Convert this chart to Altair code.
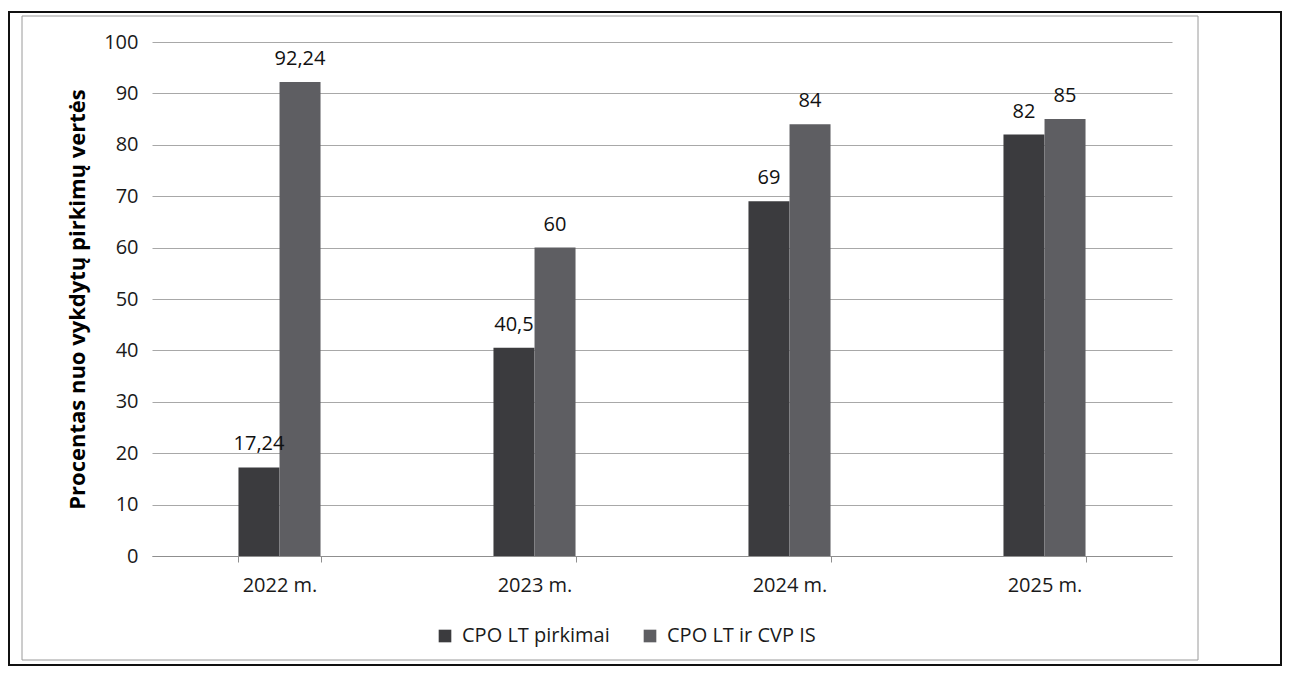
import altair as alt
import pandas as pd

years = ["2022 m.", "2023 m.", "2024 m.", "2025 m."]
series_names = ["CPO LT pirkimai", "CPO LT ir CVP IS"]
cpo_lt = [17.24, 40.5, 69, 82]
cpo_lt_cvp = [92.24, 60, 84, 85]
y_ticks = [0, 10, 20, 30, 40, 50, 60, 70, 80, 90, 100]
colors = ["#3b3b3e", "#5e5e62"]

rows = []
for i, yv in enumerate(years):
    for s, vals in zip(series_names, [cpo_lt, cpo_lt_cvp]):
        v = vals[i]
        rows.append({"year": yv, "series": s, "value": v, "label": str(v).replace(".", ",")})
df = pd.DataFrame(rows)

FONT = "Open Sans"

base = alt.Chart(df).encode(
    x=alt.X("year:N", sort=years,
            scale=alt.Scale(paddingInner=0.678, paddingOuter=0.339),
            axis=alt.Axis(title=None, labelAngle=0, labelFont=FONT, labelFontSize=20,
                          labelColor="#1a1a1a", labelPadding=13, grid=False,
                          domainColor="#8f8f8f", tickColor="#8f8f8f", tickSize=6,
                          tickBand="extent")),
    xOffset=alt.XOffset("series:N", sort=series_names),
    y=alt.Y("value:Q", scale=alt.Scale(domain=[0, 100], nice=False),
            axis=alt.Axis(title="Procentas nuo vykdytų pirkimų vertės", values=y_ticks,
                          labelFont=FONT, labelFontSize=20, labelColor="#1a1a1a",
                          labelPadding=14, domain=False, ticks=False,
                          gridColor="#a8a8a8", gridWidth=1,
                          titleFont=FONT, titleFontSize=22, titleFontWeight="bold",
                          titleColor="#000000", titlePadding=14)),
)

bars = base.mark_bar(size=41).encode(
    color=alt.Color("series:N", sort=series_names,
                    scale=alt.Scale(domain=series_names, range=colors),
                    legend=alt.Legend(title=None, orient="none", direction="horizontal",
                                      legendX=283, legendY=584,
                                      symbolType="square", symbolSize=160,
                                      symbolStrokeWidth=0, labelFont=FONT,
                                      labelFontSize=20, labelColor="#1a1a1a",
                                      labelOffset=7, columnPadding=30))
)

texts = base.mark_text(font=FONT, fontSize=20, color="#111111", dy=-17,
                       baseline="alphabetic").encode(text="label:N")

frame_data = alt.Data(values=[{"k": 1}])
outer = alt.Chart(frame_data).mark_rect(fillOpacity=0, stroke="#111111", strokeWidth=2).encode(
    x=alt.value(-143), x2=alt.value(1129), y=alt.value(-30), y2=alt.value(623))
inner = alt.Chart(frame_data).mark_rect(fillOpacity=0, stroke="#9a9a9a", strokeWidth=1).encode(
    x=alt.value(-130), x2=alt.value(1046), y=alt.value(-26), y2=alt.value(618))

chart = alt.layer(outer, inner, bars, texts).properties(
    width=1020, height=514,
    autosize=alt.AutoSizeParams(type="none"),
    padding={"left": 144, "top": 34, "right": 110, "bottom": 110},
    background="white",
).configure_view(strokeWidth=0)

chart.save("out.html", embed_options={"renderer": "svg", "actions": False})
